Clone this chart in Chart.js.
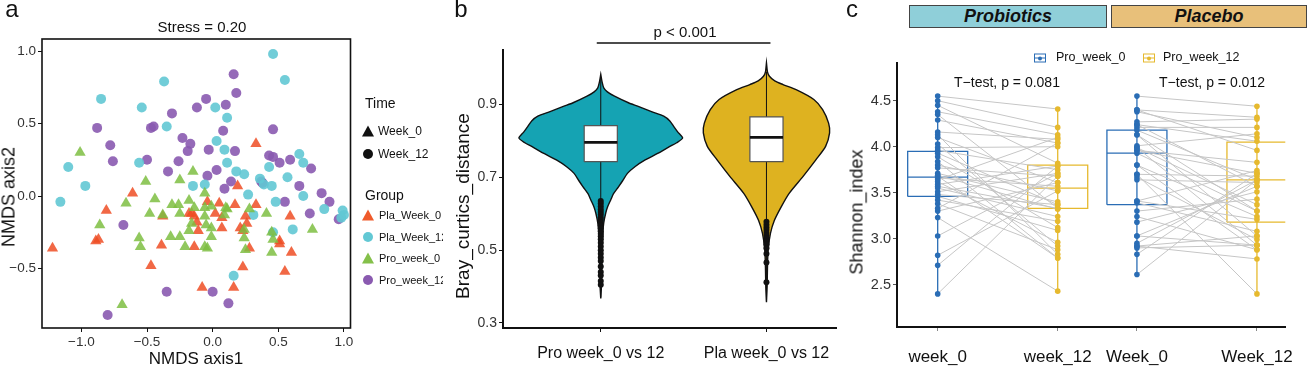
<!DOCTYPE html>
<html>
<head>
<meta charset="utf-8">
<script src="https://cdn.jsdelivr.net/npm/chart.js@4.4.1/dist/chart.umd.min.js"></script>
<style>
  body { margin: 0; width: 1309px; height: 368px; position: relative; overflow: hidden; background: #fff;
         font-family: "Liberation Sans", Arial, sans-serif; color: #111; }
  canvas { position: absolute; top: 0; }
  .t { position: absolute; white-space: nowrap; transform: translate(-50%, -50%); }
  .l { position: absolute; white-space: nowrap; transform: translateY(-50%); }
  .rot { transform: translate(-50%, -50%) rotate(-90deg); }
  .tri { position: absolute; width: 0; height: 0; border-left: 6px solid transparent;
         border-right: 6px solid transparent; border-bottom: 11px solid #111; transform: translate(-50%, -50%); }
  .dot { position: absolute; width: 10px; height: 10px; border-radius: 50%; background: #111; transform: translate(-50%, -50%); }
  .strip { position: absolute; top: 5px; height: 21px; border: 1px solid #444; text-align: center;
           font-weight: bold; font-style: italic; font-size: 18px; line-height: 21px; }
  .key { position: absolute; width: 10px; height: 7px; border: 1px solid; transform: translate(-50%, -50%); }
  .key i { position: absolute; left: 0; right: 0; top: 3px; height: 1px; }
  .key b { position: absolute; left: 3px; top: 1.5px; width: 4px; height: 4px; border-radius: 50%; }
</style>
</head>
<body>
<canvas id="nmds" width="357" height="368" style="left:0"></canvas>
<canvas id="bray" width="402" height="368" style="left:440px"></canvas>
<canvas id="shannon" width="459" height="368" style="left:850px"></canvas>

<!-- panel a texts -->
<div class="t" style="left:12px;top:9px;font-size:24px">a</div>
<div class="t" style="left:202px;top:26px;font-size:15px">Stress = 0.20</div>
<div class="t" style="left:196px;top:359px;font-size:17px">NMDS axis1</div>
<div class="t rot" style="left:9px;top:197px;font-size:18px">NMDS axis2</div>
<div style="position:absolute;left:355px;top:80px;width:88px;height:220px;overflow:hidden">
  <div class="l" style="left:10px;top:23px;font-size:14px">Time</div>
  <div class="tri" style="left:13px;top:51px"></div>
  <div class="l" style="left:23px;top:51px;font-size:12px">Week_0</div>
  <div class="dot" style="left:13px;top:74px"></div>
  <div class="l" style="left:23px;top:74px;font-size:12px">Week_12</div>
  <div class="l" style="left:10px;top:115px;font-size:14px">Group</div>
  <div class="tri" style="left:13px;top:135px;border-bottom-color:#ef5a2b"></div>
  <div class="l" style="left:24px;top:135px;font-size:11px">Pla_Week_0</div>
  <div class="dot" style="left:13px;top:157px;background:#62c8d4"></div>
  <div class="l" style="left:24px;top:157px;font-size:11px">Pla_Week_12</div>
  <div class="tri" style="left:13px;top:178px;border-bottom-color:#84c04a"></div>
  <div class="l" style="left:24px;top:178px;font-size:11px">Pro_week_0</div>
  <div class="dot" style="left:13px;top:200px;background:#8a5ab0"></div>
  <div class="l" style="left:24px;top:200px;font-size:11px">Pro_week_12</div>
</div>

<!-- panel b texts -->
<div class="t" style="left:461px;top:9px;font-size:24px">b</div>
<div class="t" style="left:685px;top:31px;font-size:15px">p &lt; 0.001</div>
<div class="t rot" style="left:463px;top:206px;font-size:19px">Bray_curtics_distance</div>

<!-- panel c texts -->
<div class="t" style="left:852px;top:9px;font-size:24px">c</div>
<div class="strip" style="left:909px;width:196px;background:#8fcfd9">Probiotics</div>
<div class="strip" style="left:1111px;width:194px;background:#e8c07a">Placebo</div>
<div class="key" style="left:1040px;top:58px;border-color:#2a6db5"><i style="background:#2a6db5"></i><b style="background:#2a6db5"></b></div>
<div class="l" style="left:1056px;top:57px;font-size:12.5px">Pro_week_0</div>
<div class="key" style="left:1149px;top:58px;border-color:#e6b92e"><i style="background:#e6b92e"></i><b style="background:#e6b92e"></b></div>
<div class="l" style="left:1163px;top:57px;font-size:12.5px">Pro_week_12</div>
<div class="t" style="left:1007px;top:82px;font-size:14px">T−test, p = 0.081</div>
<div class="t" style="left:1212px;top:82px;font-size:14px">T−test, p = 0.012</div>
<div class="t rot" style="left:857px;top:212px;font-size:18px;color:#111">Shannon_index</div>

<script>
// ---------- panel a: NMDS ----------
const plaWeek0X = [0.33,-0.61,0.19,-0.81,-1.22,-0.89,-0.87,-0.47,-0.39,-0.38,-0.04,0.05,0.17,0.33,-0.18,-0.14,-0.12,-0.16,0.02,0.07,0.07,0.21,0.25,0.26,-0.14,0.28,0.59,0.51,0.51,0.60,0.55,0.23,-0.08,0.16,0.23,-0.11];
const plaWeek0Y = [0.36,0.02,0.07,-0.10,-0.36,-0.31,-0.30,-0.48,-0.34,-0.14,-0.04,-0.05,-0.06,-0.06,-0.12,-0.14,-0.18,-0.12,-0.12,-0.15,-0.22,-0.22,-0.14,-0.19,-0.35,-0.36,-0.14,-0.31,-0.33,-0.39,-0.52,-0.49,-0.63,-0.63,-0.24,-0.24];
const plaWeek12X = [0.46,0.55,-0.37,-0.85,-0.54,0.02,0.11,-0.35,0.03,0.09,-1.10,-0.56,0.11,-0.97,-1.16,0.18,0.24,-0.15,-0.06,0.27,0.36,0.43,0.39,0.45,0.57,0.66,0.69,0.69,0.48,0.31,0.46,0.61,0.85,0.99,1.00,0.98,0.16];
const plaWeek12Y = [0.98,0.80,0.79,0.67,0.61,0.61,0.54,0.48,0.38,0.32,0.20,0.23,0.23,0.07,-0.04,0.17,0.15,0.07,0.08,0.01,0.12,0.20,0.08,0.07,0.13,0.29,0.23,0.00,-0.04,-0.13,-0.25,-0.23,-0.09,-0.10,-0.13,-0.15,-0.55];
const proWeek0X = [-1.01,-0.51,-0.25,-0.15,-0.06,-0.66,-0.44,-0.86,-0.48,-0.56,-0.55,-0.38,-0.32,-0.31,-0.26,-0.25,-0.18,-0.14,-0.06,-0.01,-0.06,-0.05,-0.01,-0.16,-0.18,-0.21,-0.25,-0.06,-0.04,-0.01,0.11,0.10,0.09,0.28,0.41,0.24,0.24,0.25,0.45,0.45,0.76,-0.69,0.46];
const proWeek0Y = [0.30,0.10,0.11,0.17,0.02,-0.05,-0.02,-0.20,-0.12,-0.29,-0.35,-0.13,-0.28,-0.06,-0.06,-0.12,-0.03,-0.08,-0.08,-0.07,-0.14,-0.20,-0.22,-0.19,-0.24,-0.35,-0.28,-0.35,-0.36,-0.28,-0.09,-0.08,-0.13,-0.09,-0.12,-0.23,-0.29,-0.37,-0.25,-0.39,-0.23,-0.75,-0.30];
const proWeek12X = [0.16,0.18,-0.05,0.10,-0.12,-0.31,-0.47,-0.45,-0.88,0.08,0.46,-0.23,-0.17,-0.78,-0.19,-0.03,0.17,-0.76,-0.50,-0.26,0.43,0.46,0.51,0.59,0.75,-0.34,0.03,-0.04,0.14,0.09,0.37,0.38,0.66,0.83,0.89,0.55,0.74,0.96,-0.68,-0.35,0.00,0.12,-0.80];
const proWeek12Y = [0.84,0.71,0.67,0.63,0.61,0.57,0.47,0.48,0.47,0.45,0.46,0.40,0.36,0.35,0.31,0.32,0.31,0.24,0.25,0.24,0.28,0.27,0.23,0.25,0.19,0.17,0.18,0.14,0.10,0.05,0.10,0.09,0.07,0.02,-0.04,-0.04,-0.12,-0.16,-0.20,-0.66,-0.66,-0.74,-0.82];
const nmdsTicksX = [-1.0, -0.5, 0.0, 0.5, 1.0];
const nmdsTicksY = [-0.5, 0.0, 0.5, 1.0];

// ---------- panel b: Bray-Curtis violins ----------
const brayLabels = ["Pro week_0 vs 12", "Pla week_0 vs 12"];
const brayPos = [1, 2];
const proViolinY = [0.367,0.40,0.45,0.50,0.546,0.575,0.602,0.62,0.638,0.655,0.674,0.69,0.711,0.73,0.748,0.765,0.785,0.795,0.808,0.825,0.840,0.855,0.868,0.88,0.895,0.905,0.923,0.935,0.946,0.96,0.983];
const proViolinW = [0,0.004,0.006,0.009,0.012,0.018,0.03,0.042,0.06,0.077,0.107,0.131,0.161,0.208,0.268,0.34,0.417,0.458,0.494,0.464,0.44,0.417,0.38,0.31,0.226,0.167,0.083,0.04,0.018,0.009,0];
const plaViolinY = [0.357,0.40,0.45,0.50,0.546,0.582,0.619,0.656,0.702,0.748,0.785,0.822,0.849,0.886,0.914,0.941,0.955,0.965,0.978,0.99,1.015];
const plaViolinW = [0,0.004,0.006,0.01,0.024,0.048,0.089,0.137,0.22,0.298,0.357,0.381,0.375,0.339,0.286,0.179,0.10,0.05,0.018,0.006,0];
const brayQ1 = [0.743, 0.743];
const brayMedian = [0.796, 0.81];
const brayQ3 = [0.842, 0.866];
const brayLow = [0.37, 0.36];
const brayHigh = [0.975, 0.99];
const proOutliers = [0.635,0.628,0.62,0.612,0.605,0.598,0.59,0.583,0.575,0.568,0.56,0.552,0.545,0.538,0.53,0.52,0.51,0.50,0.49,0.48,0.47,0.455,0.44,0.43,0.415,0.405];
const plaOutliers = [0.578,0.57,0.562,0.555,0.548,0.54,0.532,0.524,0.516,0.505,0.49,0.466,0.412];
const brayTicks = [0.3, 0.5, 0.7, 0.9];

// ---------- panel c: Shannon paired ----------
const shannonLabels = ["week_0", "week_12", "Week_0", "Week_12"];
const shannonPos = [1, 2, 2.66, 3.66];
const proShannon0 = [4.55,4.50,4.45,4.38,4.35,4.29,4.16,4.13,4.10,4.03,3.99,3.96,3.93,3.89,3.84,3.80,3.77,3.71,3.69,3.66,3.62,3.59,3.55,3.51,3.46,3.42,3.38,3.30,3.23,3.03,2.82,2.71,2.40,3.64,3.57,3.48,3.68,3.33];
const proShannon12 = [4.41,4.21,3.82,4.13,3.33,4.04,4.08,2.83,3.61,2.92,4.00,3.75,3.37,3.12,2.79,3.52,3.68,3.40,3.32,3.57,2.96,3.79,3.24,3.71,3.09,3.19,2.88,3.61,2.43,3.71,3.52,3.79,3.68,4.10,3.33,3.37,2.79,4.04];
const plaShannon0 = [4.55,4.40,4.38,4.27,4.24,4.21,4.18,4.13,4.01,3.99,3.96,3.93,3.80,3.70,3.67,3.64,3.41,3.39,3.30,3.24,3.18,3.03,2.95,2.92,2.90,2.83,2.61,4.40,4.24,3.99,3.96,3.70,3.41,2.92,3.03,4.13,3.80];
const plaShannon12 = [4.44,4.32,4.10,4.30,3.57,4.21,3.64,3.03,4.14,2.93,3.71,3.30,3.24,3.68,2.99,3.61,3.74,3.08,3.43,2.88,3.51,2.93,3.64,2.78,2.93,3.71,3.64,3.96,4.06,3.37,3.83,2.40,3.21,3.03,3.57,3.30,2.88];
const shannonQ1 = [3.46, 3.33, 3.37, 3.18];
const shannonMedian = [3.67, 3.55, 3.93, 3.64];
const shannonQ3 = [3.95, 3.80, 4.18, 4.05];
const shannonLow = [2.40, 2.43, 2.61, 2.40];
const shannonHigh = [4.55, 4.41, 4.55, 4.44];
const shannonTicks = [2.5, 3.0, 3.5, 4.0, 4.5];

const FONT = '"Liberation Sans", Arial, sans-serif';
Chart.defaults.font.family = FONT;
Chart.defaults.color = "#333";
Chart.defaults.animation = false;
Chart.defaults.plugins.legend.display = false;
Chart.defaults.plugins.tooltip.enabled = false;

const zip = (xs, ys) => xs.map((x, i) => ({ x: x, y: ys[i] }));
const fixTicks = (values) => (scale) => { scale.ticks = values.map((v) => ({ value: v })); };
const minus = (v) => (v < 0 ? "\u2212" : "") + Math.abs(v).toFixed(1);

const framePlugin = {
  id: "frame",
  afterDatasetsDraw(chart) {
    const a = chart.chartArea;
    const ctx = chart.ctx;
    ctx.save();
    ctx.strokeStyle = "#111";
    ctx.lineWidth = 1.6;
    ctx.strokeRect(a.left, a.top, a.right - a.left, a.bottom - a.top);
    ctx.restore();
  }
};

new Chart(document.getElementById("nmds"), {
  type: "scatter",
  data: {
    datasets: [
      { data: zip(proWeek0X, proWeek0Y), pointStyle: "triangle", pointRadius: 6.5, backgroundColor: "rgba(126,190,66,0.85)", borderWidth: 0 },
      { data: zip(plaWeek0X, plaWeek0Y), pointStyle: "triangle", pointRadius: 6.5, backgroundColor: "rgba(238,78,36,0.85)", borderWidth: 0 },
      { data: zip(plaWeek12X, plaWeek12Y), pointStyle: "circle", pointRadius: 5, backgroundColor: "rgba(98,200,212,0.9)", borderWidth: 0 },
      { data: zip(proWeek12X, proWeek12Y), pointStyle: "circle", pointRadius: 5, backgroundColor: "rgba(138,90,176,0.9)", borderWidth: 0 }
    ]
  },
  options: {
    responsive: false,
    devicePixelRatio: 1,
    layout: { padding: { top: 39, right: 2, left: 0, bottom: 0 } },
    scales: {
      x: {
        type: "linear", min: -1.30, max: 1.05,
        afterFit: (s) => { s.height = 40; },
        afterBuildTicks: fixTicks(nmdsTicksX),
        ticks: { callback: minus, font: { size: 13.5 }, color: "#333", padding: 2, maxRotation: 0 },
        grid: { drawOnChartArea: false, color: "#111", tickLength: 4 },
        border: { display: false }
      },
      y: {
        type: "linear", min: -0.91, max: 1.083,
        afterFit: (s) => { s.width = 42; },
        afterBuildTicks: fixTicks(nmdsTicksY),
        ticks: { callback: minus, font: { size: 13.5 }, color: "#333", padding: 2 },
        grid: { drawOnChartArea: false, color: "#111", tickLength: 4 },
        border: { display: false }
      }
    }
  },
  plugins: [framePlugin]
});

// ---------- panel b ----------
function violinShape(pos, ys, ws) {
  const left = ys.map((y, i) => ({ x: pos - ws[i], y: y }));
  const right = ys.map((y, i) => ({ x: pos + ws[i], y: y })).reverse();
  return left.concat(right);
}
function boxShape(pos, half, lo, hi) {
  return [
    { x: pos - half, y: lo }, { x: pos + half, y: lo },
    { x: pos + half, y: hi }, { x: pos - half, y: hi }, { x: pos - half, y: lo }
  ];
}

const brayDatasets = [];
const violinFills = ["#15a3b3", "#deb220"];
const violinShapes = [[proViolinY, proViolinW], [plaViolinY, plaViolinW]];
const outlierSets = [proOutliers, plaOutliers];
brayPos.forEach((pos, i) => {
  brayDatasets.push({
    data: violinShape(pos, violinShapes[i][0], violinShapes[i][1]),
    fill: "shape", backgroundColor: violinFills[i], borderColor: "#111", borderWidth: 1.4,
    pointRadius: 0, tension: 0.25, order: 5
  });
  brayDatasets.push({
    data: [{ x: pos, y: brayLow[i] }, { x: pos, y: brayHigh[i] }],
    borderColor: "#111", borderWidth: 1, pointRadius: 0, order: 4
  });
  brayDatasets.push({
    data: boxShape(pos, 0.1, brayQ1[i], brayQ3[i]),
    fill: "shape", backgroundColor: "#fff", borderColor: "#555", borderWidth: 1.2,
    pointRadius: 0, tension: 0, order: 3
  });
  brayDatasets.push({
    data: [{ x: pos - 0.1, y: brayMedian[i] }, { x: pos + 0.1, y: brayMedian[i] }],
    borderColor: "#111", borderWidth: 2.6, pointRadius: 0, order: 2
  });
  brayDatasets.push({
    data: outlierSets[i].map((v) => ({ x: pos, y: v })),
    showLine: false, pointRadius: 3, backgroundColor: "#111", borderWidth: 0, order: 1
  });
});

const bracketPlugin = {
  id: "bracket",
  afterDraw(chart) {
    const xs = chart.scales.x;
    const ctx = chart.ctx;
    const y = chart.chartArea.top - 7;
    ctx.save();
    ctx.strokeStyle = "#111";
    ctx.lineWidth = 1.5;
    ctx.beginPath();
    ctx.moveTo(xs.getPixelForValue(brayPos[0]) - 4, y);
    ctx.lineTo(xs.getPixelForValue(brayPos[1]) + 4, y);
    ctx.stroke();
    ctx.restore();
  }
};

new Chart(document.getElementById("bray"), {
  type: "line",
  data: { datasets: brayDatasets },
  options: {
    responsive: false,
    devicePixelRatio: 1,
    layout: { padding: { top: 50, right: 2, left: 0, bottom: 0 } },
    scales: {
      x: {
        type: "linear", min: 0.41, max: 2.42,
        afterFit: (s) => { s.height = 40; },
        afterBuildTicks: fixTicks(brayPos),
        ticks: { callback: (v) => brayLabels[brayPos.indexOf(v)], font: { size: 16 }, color: "#111",
                 padding: 12, maxRotation: 0, autoSkip: false },
        grid: { drawOnChartArea: false, color: "#111", tickLength: 4 },
        border: { display: true, color: "#111", width: 2 }
      },
      y: {
        type: "linear", min: 0.286, max: 1.05,
        afterFit: (s) => { s.width = 63; },
        afterBuildTicks: fixTicks(brayTicks),
        ticks: { callback: (v) => v.toFixed(1), font: { size: 14 }, color: "#333", padding: 2 },
        grid: { drawOnChartArea: false, color: "#111", tickLength: 4 },
        border: { display: true, color: "#111", width: 2 }
      }
    }
  },
  plugins: [bracketPlugin]
});

// ---------- panel c ----------
const BLUE = "#2a6db5";
const YELLOW = "#e6b92e";
const boxColors = [BLUE, YELLOW, BLUE, YELLOW];

function pairLines(pos0, pos1, before, after) {
  const pts = [];
  before.forEach((v, i) => {
    pts.push({ x: pos0, y: v }, { x: pos1, y: after[i] }, { x: (pos0 + pos1) / 2, y: null });
  });
  return pts;
}

const shannonDatasets = [];
shannonPos.forEach((pos, i) => {
  shannonDatasets.push({
    data: boxShape(pos, 0.25, shannonQ1[i], shannonQ3[i]),
    borderColor: boxColors[i], borderWidth: 1.3, pointRadius: 0, fill: false, order: 3
  });
  shannonDatasets.push({
    data: [{ x: pos - 0.25, y: shannonMedian[i] }, { x: pos + 0.25, y: shannonMedian[i] }],
    borderColor: boxColors[i], borderWidth: 1.3, pointRadius: 0, order: 3
  });
  shannonDatasets.push({
    data: [{ x: pos, y: shannonLow[i] }, { x: pos, y: shannonHigh[i] }],
    borderColor: boxColors[i], borderWidth: 1.3, pointRadius: 0, order: 3
  });
});
shannonDatasets.push({
  data: pairLines(shannonPos[0], shannonPos[1], proShannon0, proShannon12),
  borderColor: "#c6c6c6", borderWidth: 1, pointRadius: 0, spanGaps: false, order: 2
});
shannonDatasets.push({
  data: pairLines(shannonPos[2], shannonPos[3], plaShannon0, plaShannon12),
  borderColor: "#c6c6c6", borderWidth: 1, pointRadius: 0, spanGaps: false, order: 2
});
[proShannon0, proShannon12, plaShannon0, plaShannon12].forEach((vals, i) => {
  shannonDatasets.push({
    data: vals.map((v) => ({ x: shannonPos[i], y: v })),
    showLine: false, pointRadius: 2.8, backgroundColor: boxColors[i], borderWidth: 0, order: 1
  });
});

new Chart(document.getElementById("shannon"), {
  type: "line",
  data: { datasets: shannonDatasets },
  options: {
    responsive: false,
    devicePixelRatio: 1,
    layout: { padding: { top: 63, right: 2, left: 0, bottom: 0 } },
    scales: {
      x: {
        type: "linear", min: 0.661, max: 3.896,
        afterFit: (s) => { s.height = 41; },
        afterBuildTicks: fixTicks(shannonPos),
        ticks: { callback: (v) => shannonLabels[shannonPos.indexOf(v)], font: { size: 17 }, color: "#111",
                 padding: 16, maxRotation: 0, autoSkip: false },
        grid: { drawOnChartArea: false, color: "#888", tickLength: 4 },
        border: { display: true, color: "#111", width: 2 }
      },
      y: {
        type: "linear", min: 2.04, max: 4.91,
        afterFit: (s) => { s.width = 47; },
        afterBuildTicks: fixTicks(shannonTicks),
        ticks: { callback: (v) => v.toFixed(1), font: { size: 14.5 }, color: "#333", padding: 2 },
        grid: { drawOnChartArea: false, color: "#555", tickLength: 4 },
        border: { display: true, color: "#111", width: 2 }
      }
    }
  }
});
</script>
</body>
</html>
